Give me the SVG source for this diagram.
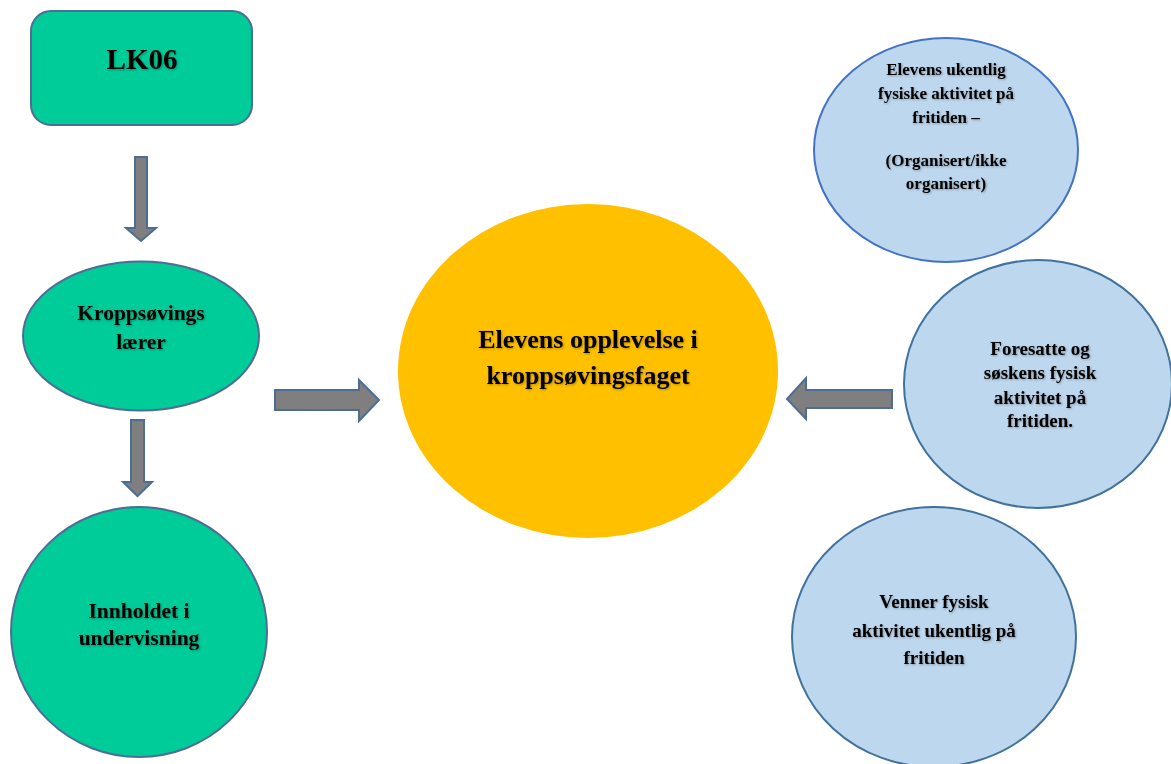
<svg xmlns="http://www.w3.org/2000/svg" width="1171" height="764" viewBox="0 0 1171 764">
<defs>
<style>
.g{fill:#00CC99;stroke:#4E6D94;stroke-width:2}
.b{fill:#BDD7EE;stroke:#41719C;stroke-width:2}
.b2{fill:#BDD7EE;stroke:#4472C4;stroke-width:2}
.y{fill:#FFC000}
.ar{fill:#7F7F7F;stroke:#4E6D94;stroke-width:2;stroke-linejoin:miter}
text{font-family:"Liberation Serif","Times New Roman",serif;font-weight:bold;fill:#000;text-anchor:middle;filter:url(#sh)}
.t17{font-size:17px}
.t19{font-size:19px}
.t21{font-size:21.5px}
.t26{font-size:26px}
.t29{font-size:29px}
</style>
<filter id="sh" x="-10%" y="-20%" width="120%" height="140%">
<feDropShadow dx="1" dy="1" stdDeviation="0.8" flood-color="#000" flood-opacity="0.3"/>
</filter>
</defs>
<rect width="1171" height="764" fill="#fff"/>
<g id="connectors">
<polygon class="ar" points="135,157 147,157 147,228 156,228 141,241 126,228 135,228"/>
<polygon class="ar" points="131,420 144,420 144,482 152,482 137.5,496 123,482 131,482"/>
<polygon class="ar" points="275,390 359,390 359,380 379,400 359,421 359,410 275,410"/>
<polygon class="ar" points="892,390 806,390 806,378 787,399 806,419 806,408 892,408"/>
</g>
<g id="lk06">
<rect class="g" x="31" y="11" width="221" height="114" rx="20"/>
<text class="t29" x="142" y="69">LK06</text>
</g>
<g id="laerer">
<ellipse class="g" cx="141" cy="336" rx="118" ry="74.5"/>
<text class="t21" x="141" y="320">Kroppsøvings</text>
<text class="t21" x="141" y="349">lærer</text>
</g>
<g id="innhold">
<ellipse class="g" cx="139" cy="632" rx="128" ry="125"/>
<text class="t21" x="139" y="618">Innholdet i</text>
<text class="t21" x="139" y="645">undervisning</text>
</g>
<g id="elevens">
<ellipse class="y" cx="588" cy="371" rx="190" ry="167"/>
<text class="t26" x="588" y="348">Elevens opplevelse i</text>
<text class="t26" x="588" y="384">kroppsøvingsfaget</text>
</g>
<g id="ukentlig">
<ellipse class="b2" cx="946" cy="150" rx="132" ry="112"/>
<text class="t17" x="946" y="75">Elevens ukentlig</text>
<text class="t17" x="946" y="99">fysiske aktivitet på</text>
<text class="t17" x="946" y="123">fritiden –</text>
<text class="t17" x="946" y="166">(Organisert/ikke</text>
<text class="t17" x="946" y="189">organisert)</text>
</g>
<g id="foresatte">
<ellipse class="b" cx="1038" cy="384" rx="134" ry="124"/>
<text class="t19" x="1040" y="355">Foresatte og</text>
<text class="t19" x="1040" y="379">søskens fysisk</text>
<text class="t19" x="1040" y="404">aktivitet på</text>
<text class="t19" x="1040" y="427">fritiden.</text>
</g>
<g id="venner">
<ellipse class="b" cx="934" cy="637" rx="142" ry="130"/>
<text class="t19" x="934" y="608">Venner fysisk</text>
<text class="t19" x="934" y="637">aktivitet ukentlig på</text>
<text class="t19" x="934" y="664">fritiden</text>
</g>
</svg>
